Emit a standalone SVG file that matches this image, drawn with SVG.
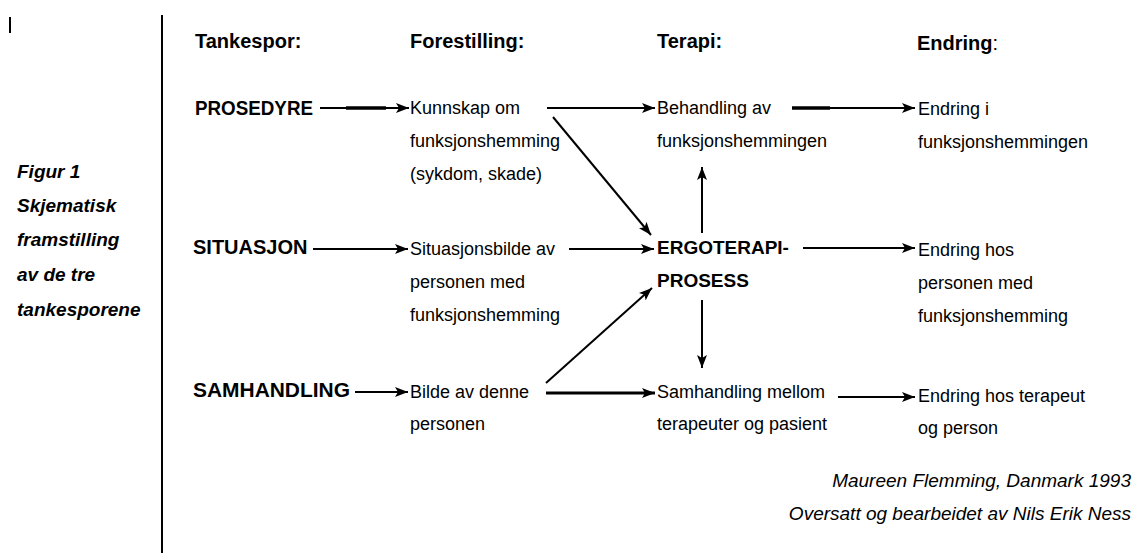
<svg xmlns="http://www.w3.org/2000/svg" width="1143" height="553" viewBox="0 0 1143 553">
<defs>
<marker id="ah" markerUnits="userSpaceOnUse" markerWidth="13" markerHeight="10" refX="13" refY="5" orient="auto">
<path d="M0,0 L13,5 L0,10 L3,5 z" fill="#000"/>
</marker>
<style>
text{font-family:"Liberation Sans",Arial,sans-serif;fill:#000}
.h{font-size:20px;font-weight:bold}
.c{font-size:20px;font-weight:bold}
.b{font-size:18px}
.fig{font-size:19px;font-weight:bold;font-style:italic}
.cr{font-size:19px;font-style:italic;text-anchor:end}
.a{stroke:#000;stroke-width:2;fill:none;marker-end:url(#ah)}
.rule{stroke:#000;stroke-width:2}
.thick{stroke:#000;stroke-width:3.5}
</style>
</defs>
<rect width="1143" height="553" fill="#fff"/>
<line class="rule" x1="10" y1="17" x2="10" y2="33"/>
<line class="rule" x1="162" y1="15" x2="162" y2="553"/>
<g id="caption">
<text class="fig" x="17" y="178">Figur 1</text>
<text class="fig" x="17" y="212">Skjematisk</text>
<text class="fig" x="17" y="246">framstilling</text>
<text class="fig" x="17" y="281">av de tre</text>
<text class="fig" x="17" y="316">tankesporene</text>
</g>
<g id="headers">
<text class="h" x="195" y="48">Tankespor:</text>
<text class="h" x="410" y="48">Forestilling:</text>
<text class="h" x="657" y="48">Terapi:</text>
<text class="h" x="917" y="50">Endring<tspan font-weight="normal">:</tspan></text>
</g>
<g id="prosedyre"><text class="c" x="195" y="115" textLength="118" lengthAdjust="spacingAndGlyphs">PROSEDYRE</text></g>
<g id="situasjon"><text class="c" x="193" y="254">SITUASJON</text></g>
<g id="samhandling"><text class="c" x="193" y="397" textLength="157" lengthAdjust="spacingAndGlyphs">SAMHANDLING</text></g>
<g id="kunnskap">
<text class="b" x="410" y="114">Kunnskap om</text>
<text class="b" x="410" y="147">funksjonshemming</text>
<text class="b" x="410" y="180">(sykdom, skade)</text>
</g>
<g id="situasjonsbilde">
<text class="b" x="410" y="255">Situasjonsbilde av</text>
<text class="b" x="410" y="288">personen med</text>
<text class="b" x="410" y="321">funksjonshemming</text>
</g>
<g id="bilde">
<text class="b" x="410" y="398">Bilde av denne</text>
<text class="b" x="410" y="430">personen</text>
</g>
<g id="behandling">
<text class="b" x="657" y="114">Behandling av</text>
<text class="b" x="657" y="147">funksjonshemmingen</text>
</g>
<g id="ergoterapi">
<text class="c" x="657" y="254" style="font-size:19px">ERGOTERAPI-</text>
<text class="c" x="657" y="287" style="font-size:19px">PROSESS</text>
</g>
<g id="samhandling-mellom">
<text class="b" x="657" y="398">Samhandling mellom</text>
<text class="b" x="657" y="430">terapeuter og pasient</text>
</g>
<g id="endring-i">
<text class="b" x="918" y="115">Endring i</text>
<text class="b" x="918" y="148">funksjonshemmingen</text>
</g>
<g id="endring-hos">
<text class="b" x="918" y="256">Endring hos</text>
<text class="b" x="918" y="289">personen med</text>
<text class="b" x="918" y="322">funksjonshemming</text>
</g>
<g id="endring-terapeut">
<text class="b" x="918" y="402">Endring hos terapeut</text>
<text class="b" x="918" y="434">og person</text>
</g>
<g id="credits">
<text class="cr" x="1131" y="487">Maureen Flemming, Danmark 1993</text>
<text class="cr" x="1131" y="520">Oversatt og bearbeidet av Nils Erik Ness</text>
</g>
<g id="connectors">
<line class="a" x1="320" y1="108" x2="409" y2="108"/>
<line class="thick" x1="346" y1="108" x2="386" y2="108"/>
<line class="a" x1="547" y1="108" x2="655" y2="108"/>
<line class="a" x1="792" y1="108" x2="915" y2="108"/>
<line class="thick" x1="792" y1="108" x2="830" y2="108"/>
<line class="a" x1="553" y1="117" x2="651" y2="235"/>
<line class="a" x1="313" y1="249" x2="408" y2="249"/>
<line class="a" x1="569" y1="249" x2="654" y2="249"/>
<line class="a" x1="803" y1="248" x2="915" y2="248"/>
<line class="a" x1="702" y1="233" x2="702" y2="167"/>
<line class="a" x1="702" y1="300" x2="702" y2="368"/>
<line class="a" x1="355" y1="392" x2="408" y2="392"/>
<line class="a" x1="546" y1="383" x2="652" y2="288"/>
<line class="a" x1="546" y1="393" x2="655" y2="393" style="stroke-width:3"/>
<line class="a" x1="838" y1="397" x2="915" y2="397"/>
</g>
</svg>
